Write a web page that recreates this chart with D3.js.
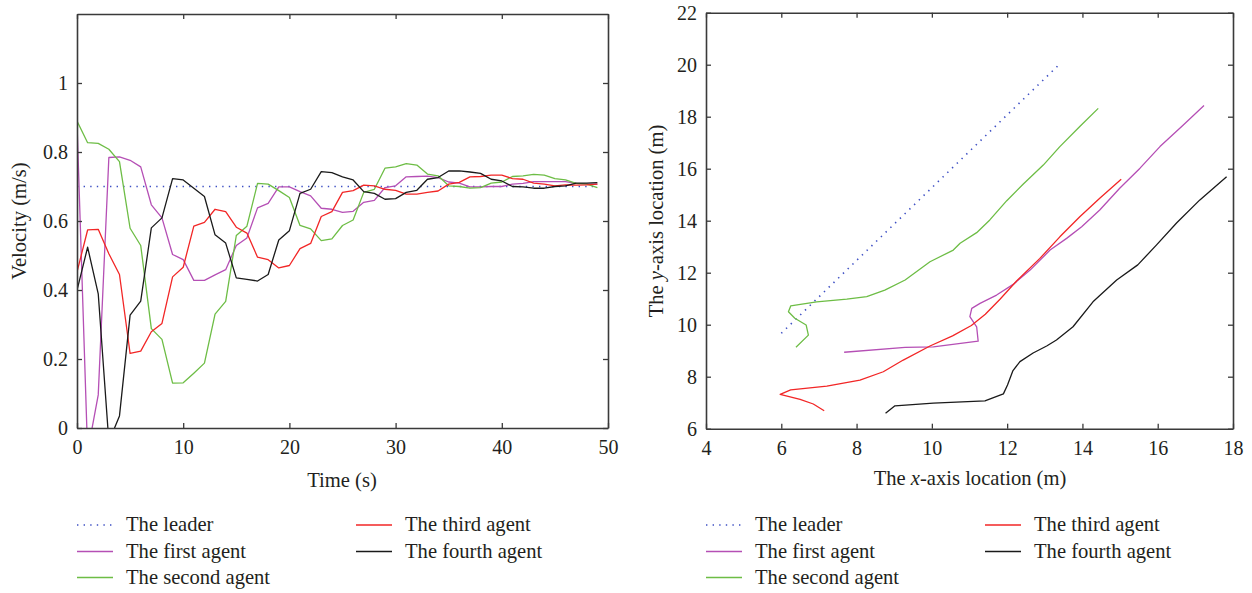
<!DOCTYPE html>
<html>
<head>
<meta charset="utf-8">
<script src="https://cdn.jsdelivr.net/npm/d3@7"></script>
<style>
  body { margin: 0; background: #fff; }
  svg text { font-family: "Liberation Serif", "Times New Roman", serif; fill: #231f20; }
</style>
</head>
<body>
<script>
// ---- data ----
const time = [0,1,2,3,4,5,6,7,8,9,10,11,12,13,14,15,16,17,18,19,20,21,22,23,24,
	25,26,27,28,29,30,31,32,33,34,35,36,37,38,39,40,41,42,43,44,45,46,47,48,49];

const leaderTime = [0, 49];
const leaderVel = [0.7, 0.7];

const firstVel = [0.885,-0.07,0.096,0.784,0.786,0.776,0.757,0.647,0.609,0.503,0.488,0.428,0.428,0.444,0.459,
	0.529,0.551,0.638,0.651,0.699,0.699,0.685,0.673,0.637,0.634,0.625,0.628,0.654,0.660,0.697,
	0.702,0.728,0.729,0.730,0.726,0.713,0.710,0.699,0.699,0.700,0.700,0.707,0.709,0.714,0.714,
	0.714,0.714,0.709,0.707,0.707];
const secondVel = [0.89,0.827,0.825,0.808,0.772,0.579,0.529,0.288,0.257,0.130,0.131,0.159,0.188,0.330,0.367,
	0.558,0.585,0.709,0.707,0.688,0.668,0.587,0.577,0.543,0.548,0.587,0.603,0.683,0.692,0.753,
	0.757,0.766,0.762,0.736,0.731,0.702,0.700,0.695,0.697,0.710,0.713,0.729,0.731,0.735,0.733,
	0.723,0.719,0.709,0.707,0.697];
const thirdVel = [0.452,0.574,0.576,0.505,0.445,0.216,0.223,0.279,0.303,0.438,0.466,0.585,0.596,0.634,0.627,
	0.582,0.565,0.495,0.488,0.464,0.471,0.520,0.535,0.613,0.627,0.683,0.688,0.704,0.702,0.692,
	0.689,0.678,0.678,0.683,0.687,0.707,0.712,0.728,0.729,0.733,0.733,0.723,0.721,0.710,0.707,
	0.702,0.705,0.704,0.705,0.707];
const fourthVel = [0.399,0.524,0.389,-0.04,0.035,0.327,0.368,0.580,0.609,0.723,0.719,0.695,0.671,0.560,0.536,
	0.435,0.431,0.426,0.445,0.545,0.572,0.680,0.692,0.743,0.740,0.728,0.719,0.685,0.680,0.663,
	0.665,0.683,0.689,0.721,0.726,0.745,0.745,0.742,0.738,0.721,0.716,0.700,0.699,0.695,0.695,
	0.700,0.702,0.710,0.710,0.711];

// trajectories (x, y in metres)
const leaderX = [6.0, 13.40];
const leaderY = [9.67, 20.03];
const firstX = [7.67,9.29,10.04,11.23,11.19,11.01,11.06,11.28,11.72,12.16,12.61,13.14,13.58,13.98,14.46,14.99,15.53,16.06,16.68,17.23];
const firstY = [8.94,9.13,9.15,9.37,9.92,10.31,10.63,10.82,11.14,11.55,12.10,12.87,13.32,13.77,14.41,15.25,16.02,16.85,17.68,18.43];
const secondX = [6.39,6.72,6.66,6.36,6.19,6.25,6.94,7.74,8.27,8.75,9.29,9.95,10.57,10.75,11.19,11.54,11.99,12.43,12.96,13.40,13.93,14.42];
const secondY = [9.13,9.60,9.99,10.25,10.50,10.72,10.88,10.98,11.08,11.33,11.72,12.42,12.87,13.13,13.54,14.03,14.77,15.41,16.14,16.85,17.62,18.32];
const thirdX = [7.14,6.85,6.50,5.97,6.25,7.21,8.09,8.71,9.24,9.95,10.55,11.05,11.42,11.81,12.25,12.87,13.40,13.93,14.46,15.03];
const thirdY = [6.69,6.95,7.13,7.32,7.49,7.64,7.87,8.19,8.64,9.18,9.57,9.97,10.40,10.98,11.68,12.55,13.38,14.15,14.86,15.59];
const fourthX = [8.77,9.02,10.04,11.41,11.90,12.01,12.15,12.34,12.69,13.05,13.31,13.75,14.28,14.91,15.47,15.97,16.50,17.12,17.83];
const fourthY = [6.59,6.88,6.98,7.07,7.34,7.68,8.22,8.58,8.91,9.18,9.41,9.92,10.88,11.72,12.30,13.07,13.91,14.80,15.69];

const velTicksX = [0, 10, 20, 30, 40, 50];
const velTicksY = [0, 0.2, 0.4, 0.6, 0.8, 1];
const posTicksX = [4, 6, 8, 10, 12, 14, 16, 18];
const posTicksY = [6, 8, 10, 12, 14, 16, 18, 20, 22];

const names = ["The leader", "The first agent", "The second agent", "The third agent", "The fourth agent"];
const colors = ["#3d4fc4", "#b54fb5", "#6dbd45", "#f22626", "#1a1a1a"];

// ---- drawing ----
const width = 1252, height = 593;
const svg = d3.select("body").append("svg")
	.attr("width", width)
	.attr("height", height);

function frame(g, x, y, ticksX, ticksY, fmtY) {
	const [x0, x1] = x.range();
	const [y0, y1] = y.range();
	g.append("g").attr("transform", "translate(0," + y0 + ")")
		.call(d3.axisBottom(x).tickValues(ticksX).tickSize(-5).tickSizeOuter(0).tickPadding(12));
	g.append("g").attr("transform", "translate(0," + y1 + ")")
		.call(d3.axisTop(x).tickValues(ticksX).tickSize(-5).tickSizeOuter(0).tickFormat(""));
	g.append("g").attr("transform", "translate(" + x0 + ",0)")
		.call(d3.axisLeft(y).tickValues(ticksY).tickSize(-5).tickSizeOuter(0).tickPadding(9).tickFormat(fmtY));
	g.append("g").attr("transform", "translate(" + x1 + ",0)")
		.call(d3.axisRight(y).tickValues(ticksY).tickSize(-5).tickSizeOuter(0).tickFormat(""));
	g.selectAll(".domain").attr("stroke", "#3a3a3a").attr("stroke-width", 1.6);
	g.selectAll(".tick line").attr("stroke", "#3a3a3a").attr("stroke-width", 1.3);
	g.selectAll(".tick text").style("font-size", "20px").attr("fill", "#231f20");
}

function drawLine(g, xs, ys, x, y, i, clipId) {
	const line = d3.line().x(d => x(d[0])).y(d => y(d[1]));
	const p = g.append("path")
		.datum(d3.zip(xs, ys))
		.attr("fill", "none")
		.attr("stroke", colors[i])
		.attr("stroke-width", i === 0 ? 1.6 : 1.3)
		.attr("stroke-linejoin", "round")
		.attr("clip-path", "url(#" + clipId + ")")
		.attr("d", line);
	if (i === 0) p.attr("stroke-dasharray", "1.4,5.2");
}

function legend(g, left, col2) {
	const rows = [525, 551.5, 577.5];
	names.forEach((n, i) => {
		const lx = i < 3 ? left : col2;
		const ly = rows[i < 3 ? i : i - 3];
		const l = g.append("line")
			.attr("x1", lx).attr("x2", lx + 36)
			.attr("y1", ly).attr("y2", ly)
			.attr("stroke", colors[i])
			.attr("stroke-width", i === 0 ? 1.6 : 1.3);
		if (i === 0) l.attr("stroke-dasharray", "1.4,5.2");
		g.append("text")
			.attr("x", lx + 49).attr("y", ly + 6)
			.style("font-size", "20.6px")
			.text(n);
	});
}

// left: velocity
const xv = d3.scaleLinear().domain([0, 50]).range([77, 608]);
const yv = d3.scaleLinear().domain([0, 1.2]).range([428, 14]);
const gv = svg.append("g");

svg.append("clipPath").attr("id", "clipv").append("rect")
	.attr("x", 77).attr("y", 14).attr("width", 531).attr("height", 414);

drawLine(gv, leaderTime, leaderVel, xv, yv, 0, "clipv");
drawLine(gv, time, firstVel, xv, yv, 1, "clipv");
drawLine(gv, time, secondVel, xv, yv, 2, "clipv");
drawLine(gv, time, thirdVel, xv, yv, 3, "clipv");
drawLine(gv, time, fourthVel, xv, yv, 4, "clipv");
frame(gv, xv, yv, velTicksX, velTicksY, d3.format("~g"));

gv.append("text")
	.attr("x", 342).attr("y", 487)
	.attr("text-anchor", "middle")
	.style("font-size", "20.6px")
	.text("Time (s)");
gv.append("text")
	.attr("transform", "translate(26,221) rotate(-90)")
	.attr("text-anchor", "middle")
	.style("font-size", "20.6px")
	.text("Velocity (m/s)");
legend(gv, 77, 356);

// right: trajectories
const xp = d3.scaleLinear().domain([4, 18]).range([706, 1233]);
const yp = d3.scaleLinear().domain([6, 22]).range([428.7, 12.7]);
const gp = svg.append("g");

svg.append("clipPath").attr("id", "clipp").append("rect")
	.attr("x", 706).attr("y", 12.7).attr("width", 527).attr("height", 416);

drawLine(gp, leaderX, leaderY, xp, yp, 0, "clipp");
drawLine(gp, firstX, firstY, xp, yp, 1, "clipp");
drawLine(gp, secondX, secondY, xp, yp, 2, "clipp");
drawLine(gp, thirdX, thirdY, xp, yp, 3, "clipp");
drawLine(gp, fourthX, fourthY, xp, yp, 4, "clipp");
frame(gp, xp, yp, posTicksX, posTicksY, d3.format("d"));

const xl = gp.append("text")
	.attr("x", 970).attr("y", 485)
	.attr("text-anchor", "middle")
	.style("font-size", "20.6px");
xl.append("tspan").text("The ");
xl.append("tspan").style("font-style", "italic").text("x");
xl.append("tspan").text("-axis location (m)");

const yl = gp.append("text")
	.attr("transform", "translate(663,221) rotate(-90)")
	.attr("text-anchor", "middle")
	.style("font-size", "20.6px");
yl.append("tspan").text("The ");
yl.append("tspan").style("font-style", "italic").text("y");
yl.append("tspan").text("-axis location (m)");
legend(gp, 706, 985);
</script>
</body>
</html>
